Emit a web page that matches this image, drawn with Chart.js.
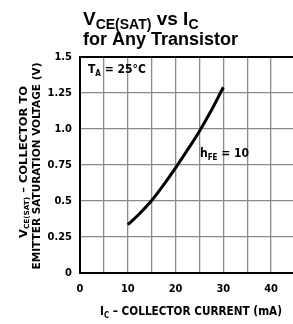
<!DOCTYPE html>
<html>
<head>
<meta charset="utf-8">
<script src="https://cdn.jsdelivr.net/npm/chart.js@4"></script>
<style>
  html, body { margin: 0; padding: 0; background: #fff; overflow: hidden; }
  canvas { display: block; }
</style>
</head>
<body>
<canvas id="chart" width="305" height="324"></canvas>
<script>
// ─── DATA ──────────────────────────────────────
const currentMa = [10, 12.5, 15, 17.5, 20, 22.5, 25, 27.5, 30];
const vceSat = [0.335, 0.413, 0.503, 0.612, 0.73, 0.855, 0.985, 1.13, 1.29];
const xTicks = [0, 5, 10, 15, 20, 25, 30, 35, 40, 45];
const yTicks = [0, 0.25, 0.5, 0.75, 1.0, 1.25, 1.5];
const yTickLabels = ['0', '0.25', '0.5', '0.75', '1.0', '1.25', '1.5'];

const narrow = "'Liberation Sans Narrow', 'DejaVu Sans Condensed', 'Arial Narrow', sans-serif";

// draws text runs [text, isSub] starting at x, returns end x
function runs(ctx, parts, x, y, size, subSize, subDrop) {
    parts.forEach(([t, sub]) => {
        ctx.font = ctx.font.replace(/\d+px/, (sub ? subSize : size) + 'px');
        ctx.fillText(t, x, sub ? y + subDrop : y);
        x += ctx.measureText(t).width;
    });
    return x;
}
function runsWidth(ctx, parts, size, subSize) {
    let w = 0;
    parts.forEach(([t, sub]) => {
        ctx.font = ctx.font.replace(/\d+px/, (sub ? subSize : size) + 'px');
        w += ctx.measureText(t).width;
    });
    return w;
}
// runs centred on cx and stretched to a target width
function fitRuns(ctx, parts, cx, y, width, size, subSize, subDrop) {
    ctx.font = 'bold ' + size + 'px ' + narrow;
    const w = runsWidth(ctx, parts, size, subSize);
    ctx.save();
    ctx.translate(cx - width / 2, y);
    ctx.scale(width / w, 1);
    ctx.font = 'bold ' + size + 'px ' + narrow;
    runs(ctx, parts, 0, 0, size, subSize, subDrop);
    ctx.restore();
}

const labelsPlugin = {
    id: 'labels',
    afterDraw(chart) {
        const ctx = chart.ctx;
        ctx.save();
        ctx.fillStyle = '#000';
        ctx.textBaseline = 'alphabetic';
        ctx.textAlign = 'left';

        // title
        ctx.font = 'bold 19px Arial, "Liberation Sans", sans-serif';
        runs(ctx, [['V', false], ['CE(SAT)', true], [' vs I', false], ['C', true]], 83, 25, 19, 14, 4);
        ctx.font = 'bold 18px Arial, "Liberation Sans", sans-serif';
        ctx.fillText('for Any Transistor', 83, 45);

        // annotations
        ctx.font = 'bold 12px ' + narrow;
        runs(ctx, [['T', false], ['A', true], [' = 25°C', false]], 88, 73, 12, 8, 3);
        ctx.font = 'bold 12px ' + narrow;
        runs(ctx, [['h', false], ['FE', true], [' = 10', false]], 200, 157, 12, 8, 3);

        // x axis title
        fitRuns(ctx, [['I', false], ['C', true], [' – COLLECTOR CURRENT (mA)', false]], 191, 315, 182, 12, 8, 3);

        // y axis title (rotated)
        ctx.rotate(-Math.PI / 2);
        fitRuns(ctx, [['V', false], ['CE(SAT)', true], [' – COLLECTOR TO', false]], -162, 27, 152, 11, 7, 1.5);
        fitRuns(ctx, [['EMITTER SATURATION VOLTAGE (V)', false]], -166, 40, 207, 11, 7, 1.5);
        ctx.restore();
    }
};

new Chart(document.getElementById('chart'), {
    type: 'line',
    data: {
        datasets: [{
            data: currentMa.map((x, i) => ({ x, y: vceSat[i] })),
            borderColor: '#000',
            borderWidth: 3,
            pointRadius: 0,
            cubicInterpolationMode: 'monotone',
            fill: false,
        }],
    },
    options: {
        responsive: false,
        animation: false,
        layout: { padding: { left: 0, top: 57, right: 0, bottom: 0 } },
        plugins: { legend: { display: false }, tooltip: { enabled: false } },
        scales: {
            x: {
                type: 'linear', min: 0, max: 45,
                afterFit: s => { s.height = 51; },
                afterBuildTicks: s => { s.ticks = xTicks.map(v => ({ value: v })); },
                ticks: {
                    color: '#000', padding: 10, maxRotation: 0,
                    font: { family: narrow, size: 11, weight: 'bold' },
                    callback: v => (v % 10 === 0 && v < 45) ? String(v) : '',
                },
                grid: {
                    color: c => c.tick && c.tick.value === 0 ? '#000' : '#8a8a8a',
                    lineWidth: c => c.tick && c.tick.value === 0 ? 2 : 1.3,
                    drawTicks: false,
                },
                border: { color: '#000', width: 2 },
            },
            y: {
                min: 0, max: 1.5,
                afterFit: s => { s.width = 80; },
                afterBuildTicks: s => { s.ticks = yTicks.map(v => ({ value: v })); },
                ticks: {
                    color: '#000', padding: 8,
                    font: { family: narrow, size: 11, weight: 'bold' },
                    callback: v => yTickLabels[yTicks.indexOf(v)] ?? '',
                },
                grid: {
                    color: c => c.tick && (c.tick.value === 1.5 || c.tick.value === 0) ? '#000' : '#8a8a8a',
                    lineWidth: c => c.tick && (c.tick.value === 1.5 || c.tick.value === 0) ? 2 : 1.3,
                    drawTicks: false,
                },
                border: { color: '#000', width: 2 },
            },
        },
    },
    plugins: [labelsPlugin],
});
</script>
</body>
</html>
